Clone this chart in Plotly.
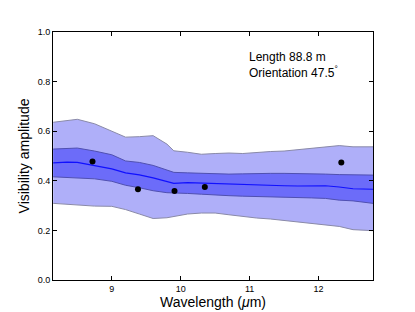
import plotly.graph_objects as go

wavelength = [8.15, 8.35, 8.5, 8.75, 9.0, 9.2, 9.4, 9.6, 9.8, 9.9, 10.1, 10.3, 10.5,
              10.7, 10.9, 11.1, 11.3, 11.5, 11.7, 11.9, 12.1, 12.3, 12.5, 12.79]
model_mean = [0.472, 0.475, 0.474, 0.462, 0.448, 0.432, 0.424, 0.412, 0.398, 0.390, 0.393, 0.391, 0.388,
              0.386, 0.384, 0.381, 0.381, 0.380, 0.379, 0.380, 0.380, 0.375, 0.368, 0.366]
inner_upper = [0.528, 0.532, 0.532, 0.520, 0.505, 0.480, 0.474, 0.462, 0.445, 0.434, 0.432, 0.430, 0.429,
               0.427, 0.428, 0.430, 0.430, 0.430, 0.430, 0.428, 0.427, 0.425, 0.424, 0.423]
inner_lower = [0.416, 0.414, 0.413, 0.408, 0.398, 0.382, 0.372, 0.360, 0.352, 0.350, 0.349, 0.346, 0.342,
               0.340, 0.338, 0.337, 0.336, 0.334, 0.332, 0.331, 0.329, 0.322, 0.319, 0.309]
outer_upper = [0.636, 0.642, 0.648, 0.630, 0.600, 0.576, 0.578, 0.582, 0.548, 0.521, 0.515, 0.507, 0.510,
               0.512, 0.510, 0.515, 0.518, 0.520, 0.526, 0.532, 0.535, 0.542, 0.537, 0.537]
outer_lower = [0.309, 0.305, 0.301, 0.298, 0.297, 0.284, 0.266, 0.248, 0.251, 0.256, 0.266, 0.270, 0.270,
               0.263, 0.256, 0.250, 0.246, 0.240, 0.234, 0.228, 0.224, 0.216, 0.203, 0.199]

obs_wavelength = [8.72, 9.38, 9.91, 10.35, 12.33]
obs_visibility = [0.478, 0.366, 0.359, 0.375, 0.474]

x_ticks = [9, 10, 11, 12]
y_ticks = [0.0, 0.2, 0.4, 0.6, 0.8, 1.0]

FONT = "Liberation Sans, Arial"
edge = dict(color="#8a8aa8", width=1)
fig = go.Figure()
fig.add_trace(go.Scatter(x=wavelength, y=outer_lower, mode="lines", line=edge, showlegend=False))
fig.add_trace(go.Scatter(x=wavelength, y=outer_upper, mode="lines", line=edge, fill="tonexty",
                         fillcolor="#afaff9", showlegend=False))
fig.add_trace(go.Scatter(x=wavelength, y=inner_lower, mode="lines", line=dict(color="#5050b0", width=1),
                         showlegend=False))
fig.add_trace(go.Scatter(x=wavelength, y=inner_upper, mode="lines", line=dict(color="#5050b0", width=1),
                         fill="tonexty", fillcolor="#6c6cf9", showlegend=False))
fig.add_trace(go.Scatter(x=wavelength, y=model_mean, mode="lines", line=dict(color="#1010ff", width=1.2),
                         showlegend=False))
fig.add_trace(go.Scatter(x=obs_wavelength, y=obs_visibility, mode="markers",
                         marker=dict(color="black", size=6), showlegend=False))

axis_common = dict(showline=True, linecolor="black", linewidth=1, mirror="ticks", ticks="inside",
                   ticklen=4, tickcolor="black", showgrid=False, zeroline=False, automargin=False,
                   tickfont=dict(family=FONT, size=9, color="black"))
fig.update_xaxes(range=[8.147, 12.79], tickvals=x_ticks, ticktext=[str(t) for t in x_ticks],
                 title=dict(text="Wavelength (<i>μ</i>m)", font=dict(family=FONT, size=14, color="black"),
                            standoff=2),
                 **axis_common)
fig.update_yaxes(range=[0, 1.0], tickvals=y_ticks, ticktext=[f"{t:.1f}" for t in y_ticks],
                 title=dict(text="Visibility amplitude", font=dict(family=FONT, size=14, color="black"),
                            standoff=4),
                 **axis_common)
fig.add_annotation(xref="paper", yref="paper", x=0.607, y=0.935, xanchor="left", yanchor="top",
                   align="left", showarrow=False,
                   text="Length 88.8 m<br>Orientation 47.5<sup>°</sup>",
                   font=dict(family=FONT, size=12, color="black"))
fig.update_layout(width=407, height=304, margin=dict(l=45, r=42, t=24, b=32),
                  plot_bgcolor="white", paper_bgcolor="white")
fig.write_html("out.html")
